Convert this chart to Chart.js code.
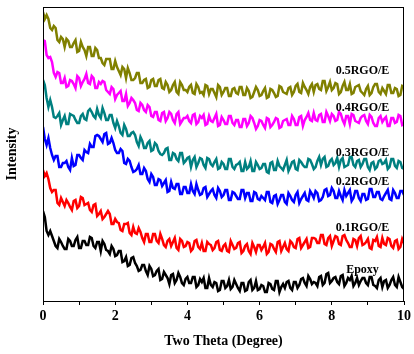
<!DOCTYPE html>
<html>
<head>
<meta charset="utf-8">
<script src="https://cdn.jsdelivr.net/npm/chart.js@4.4.0/dist/chart.umd.min.js"></script>
<style>
html,body{margin:0;padding:0;background:#fff;}
#wrap{width:414px;height:354px;position:relative;}
</style>
</head>
<body>
<div id="wrap"><canvas id="c" width="414" height="354"></canvas></div>
<script>
// Two Theta sampling (degrees); each series also has readings half a step (0.05 deg) after each of these
const twoTheta = [0,0.1,0.2,0.3,0.4,0.5,0.6,0.7,0.8,0.9,1,1.1,1.2,1.3,1.4,1.5,1.6,1.7,1.8,1.9,2,2.1,2.2,2.3,2.4,2.5,2.6,2.7,2.8,2.9,3,3.1,3.2,3.3,3.4,3.5,3.6,3.7,3.8,3.9,4,4.1,4.2,4.3,4.4,4.5,4.6,4.7,4.8,4.9,5,5.1,5.2,5.3,5.4,5.5,5.6,5.7,5.8,5.9,6,6.1,6.2,6.3,6.4,6.5,6.6,6.7,6.8,6.9,7,7.1,7.2,7.3,7.4,7.5,7.6,7.7,7.8,7.9,8,8.1,8.2,8.3,8.4,8.5,8.6,8.7,8.8,8.9,9,9.1,9.2,9.3,9.4,9.5,9.6,9.7,9.8,9.9,10];
const halfStep = 0.05;

// Offset intensities (a.u.) at twoTheta
const epoxy = [90,70,70,60,53,59,52,62,55,61,53,60,56,64,55,59,50,57,50,55,45,50,39,44,36,44,35,31,36,26,32,26,32,22,26,17,27,21,24,16,24,18,24,16,19,13,23,14,18,11,20,15,12,21,13,18,10,19,11,20,12,15,9,17,11,20,14,13,20,11,19,16,23,15,22,19,15,25,18,28,20,24,17,26,18,21,15,23,20,23,16,24,15,21,14,21,16,24,14,19,12];
const rgo01 = [131,128,113,111,98,103,95,98,91,101,95,103,97,91,96,85,90,84,90,77,82,78,70,77,68,74,67,69,59,67,59,67,58,62,54,62,59,53,62,54,59,50,60,54,58,50,57,51,59,51,55,50,60,52,58,48,55,50,58,49,56,54,47,57,52,59,50,58,50,58,53,63,56,62,54,63,58,66,57,63,55,65,57,65,61,54,62,55,65,57,62,52,60,55,63,56,62,53,61,54,58];
const rgo02 = [174,156,153,141,145,134,138,134,143,136,146,141,149,157,154,166,162,167,157,163,151,148,150,137,140,129,132,127,133,122,127,116,122,115,121,110,113,117,107,114,108,117,107,111,107,114,107,112,103,110,106,111,101,108,102,111,103,108,100,108,101,103,109,99,105,97,106,99,108,101,106,98,105,101,110,103,108,101,111,105,113,103,110,101,105,111,103,110,100,107,102,112,104,109,101,108,102,111,103,110,106];
const rgo03 = [221,203,201,184,185,176,185,177,186,181,178,187,181,192,185,192,183,188,181,186,173,175,166,172,165,169,159,164,153,158,150,158,150,146,152,141,148,142,148,138,143,134,144,138,142,133,142,135,142,133,137,132,142,132,137,130,139,134,130,139,132,137,129,138,131,140,133,136,130,139,132,141,136,134,141,132,140,136,144,135,142,138,134,143,135,144,136,140,134,142,134,138,132,140,137,141,134,142,133,139,132];
const rgo04 = [261,246,244,228,229,218,223,215,220,213,223,219,227,217,223,213,217,219,209,214,202,208,200,207,198,201,191,198,191,196,185,189,181,188,180,189,181,187,177,183,185,178,187,179,183,176,185,179,187,176,181,177,185,176,181,174,182,178,183,172,181,176,183,174,179,182,174,181,176,185,176,184,175,184,181,188,180,187,179,185,187,180,189,181,185,177,186,179,183,186,177,184,175,183,179,184,175,183,179,185,177];
const rgo05 = [289,286,273,275,261,264,254,260,254,261,250,254,245,254,245,251,243,236,242,232,240,230,234,223,228,221,228,218,221,213,221,215,221,213,219,209,216,209,219,211,209,216,207,214,209,216,207,212,204,214,209,213,205,213,207,214,206,210,204,214,205,210,203,212,208,205,214,208,213,206,215,209,218,211,214,209,217,211,220,214,211,218,207,215,211,217,208,215,210,206,215,208,217,209,213,207,216,208,212,206,214];

// Offset intensities (a.u.) at twoTheta + halfStep
const epoxyMid = [84,66,65,55,62,55,52,60,55,64,53,60,56,63,53,59,60,51,47,52,46,50,40,35,43,38,30,36,30,35,25,30,21,29,23,26,18,28,18,22,18,24,14,22,23,13,16,19,10,20,13,21,14,17,10,18,11,21,13,11,16,9,18,12,20,9,17,19,13,19,13,22,18,25,17,18,24,16,27,18,23,19,25,15,23,25,18,16,23,18,24,16,13,23,20,13,21,16,24,14];
const rgo01Mid = [125,122,109,111,96,99,101,94,100,93,104,96,98,89,97,87,82,87,87,77,79,71,77,78,66,68,73,63,67,59,67,60,67,56,60,55,63,51,60,55,58,52,61,52,50,59,56,53,60,50,57,49,56,53,59,50,57,47,54,56,51,58,49,56,49,60,54,52,60,54,62,53,59,53,63,62,58,66,56,65,60,64,56,66,58,54,61,63,56,59,53,61,64,54,57,63,55,60,52,62];
const rgo02Mid = [162,163,146,145,134,138,140,131,135,146,143,151,148,154,165,165,159,168,158,158,148,152,138,142,134,130,136,127,130,119,124,116,121,118,109,119,112,117,107,114,108,110,117,106,113,104,110,106,113,104,111,101,109,105,102,111,108,100,109,102,105,101,109,98,106,101,106,97,105,99,109,102,108,100,107,110,100,104,112,106,110,103,105,111,108,100,110,103,107,101,112,104,109,102,105,111,101,108,103,110];
const rgo03Mid = [216,194,194,183,188,181,177,187,185,178,185,182,190,189,183,186,193,181,186,178,180,168,176,165,168,166,155,160,153,160,151,156,147,148,153,141,147,140,148,140,144,141,134,143,136,143,137,139,132,139,132,142,134,136,139,130,132,140,130,136,133,137,128,139,131,135,131,141,134,140,131,139,134,142,137,134,144,142,134,140,136,143,141,134,136,144,134,141,137,142,131,139,134,141,138,132,142,135,140,133];
const rgo04Mid = [260,243,239,224,228,218,214,221,217,225,215,222,218,225,213,219,220,211,207,212,206,210,200,195,203,198,190,196,189,194,184,189,180,189,183,187,178,189,180,183,180,186,177,185,186,177,180,183,175,184,177,185,178,181,174,182,175,185,178,175,180,173,182,176,183,173,180,182,176,182,176,185,181,188,180,181,186,179,189,180,185,181,187,177,185,187,180,178,185,180,186,178,175,185,182,175,183,178,186,176];
const rgo05Mid = [282,282,271,273,259,262,262,254,258,249,259,251,254,245,253,243,238,242,242,232,234,226,232,233,221,223,228,218,222,214,222,215,222,212,216,211,219,207,216,211,214,208,217,208,206,215,212,208,216,206,213,205,212,208,214,206,213,203,209,211,206,213,204,211,204,215,209,207,214,209,217,208,214,207,217,216,212,220,210,219,213,217,209,219,211,207,214,216,208,212,206,214,217,207,210,216,208,213,205,215];

const seriesNames = ['Epoxy','0.1RGO/E','0.2RGO/E','0.3RGO/E','0.4RGO/E','0.5RGO/E'];
const seriesValues = [epoxy, rgo01, rgo02, rgo03, rgo04, rgo05];
const seriesMidValues = [epoxyMid, rgo01Mid, rgo02Mid, rgo03Mid, rgo04Mid, rgo05Mid];
const seriesColors = ['#000000','#ff0000','#0000ff','#008080','#ff00ff','#808000'];
const xTicks = [0,2,4,6,8,10];

// label anchors in data units (two theta, intensity)
const labelAnchors = [[8.85,31],[8.85,73],[8.85,119],[8.85,148],[8.85,193],[8.85,230]];

const serif = '"Liberation Serif", "Times New Roman", serif';

function seriesPoints(main, mid){
  const pts = [];
  twoTheta.forEach((t,j)=>{
    pts.push({x:t, y:main[j]});
    if (j < mid.length) pts.push({x:+(t+halfStep).toFixed(2), y:mid[j]});
  });
  return pts;
}

const frame = {
  id:'frame',
  afterDraw(chart){
    const {ctx, chartArea:a} = chart;
    ctx.save();
    ctx.strokeStyle = '#000';
    ctx.lineWidth = 1;
    ctx.strokeRect(Math.round(a.left)+0.5, Math.round(a.top)+0.5, Math.round(a.right-a.left)-1, Math.round(a.bottom-a.top));
    ctx.restore();
  }
};
const seriesLabels = {
  id:'seriesLabels',
  afterDatasetsDraw(chart){
    const {ctx, scales} = chart;
    ctx.save();
    ctx.font = 'bold 12px ' + serif;
    ctx.fillStyle = '#000';
    ctx.textAlign = 'center';
    ctx.textBaseline = 'middle';
    seriesNames.forEach((n,i)=>{
      const [lx,ly] = labelAnchors[i];
      ctx.fillText(n, scales.x.getPixelForValue(lx), scales.y.getPixelForValue(ly));
    });
    ctx.restore();
  }
};

new Chart(document.getElementById('c'), {
  type:'line',
  data:{
    datasets: seriesNames.map((n,i)=>({
      label:n,
      data: seriesPoints(seriesValues[i], seriesMidValues[i]),
      borderColor: seriesColors[i],
      borderWidth: 2.5,
      borderJoinStyle: 'miter',
      pointRadius: 0,
      tension: 0,
      fill: false,
      clip: 0
    }))
  },
  options:{
    responsive:false,
    animation:false,
    layout:{padding:{top:7,right:10,left:0,bottom:0}},
    plugins:{legend:{display:false}, tooltip:{enabled:false}},
    scales:{
      x:{
        type:'linear', min:0, max:10,
        afterBuildTicks(s){ s.ticks = [0,1,2,3,4,5,6,7,8,9,10].map(v=>({value:v})); },
        afterFit(s){ s.height = 53; },
        ticks:{
          color:'#000', padding:3, maxRotation:0, autoSkip:false,
          font:{family:serif, size:14, weight:'bold'},
          callback:(v)=> xTicks.includes(v) ? String(v) : ''
        },
        grid:{drawOnChartArea:false, color:'#000', tickLength:4, tickWidth:1},
        border:{color:'#000', width:1},
        title:{display:true, text:'Two Theta (Degree)', color:'#000', font:{family:serif, size:14, weight:'bold'}, padding:{top:4,bottom:4}}
      },
      y:{
        min:0, max:294,
        afterFit(s){ s.width = 43; },
        ticks:{display:false},
        grid:{display:false, drawTicks:false},
        border:{color:'#000', width:1},
        title:{display:true, text:'Intensity', color:'#000', font:{family:serif, size:14, weight:'bold'}, padding:{top:4,bottom:4}}
      }
    }
  },
  plugins:[frame, seriesLabels]
});
</script>
</body>
</html>
